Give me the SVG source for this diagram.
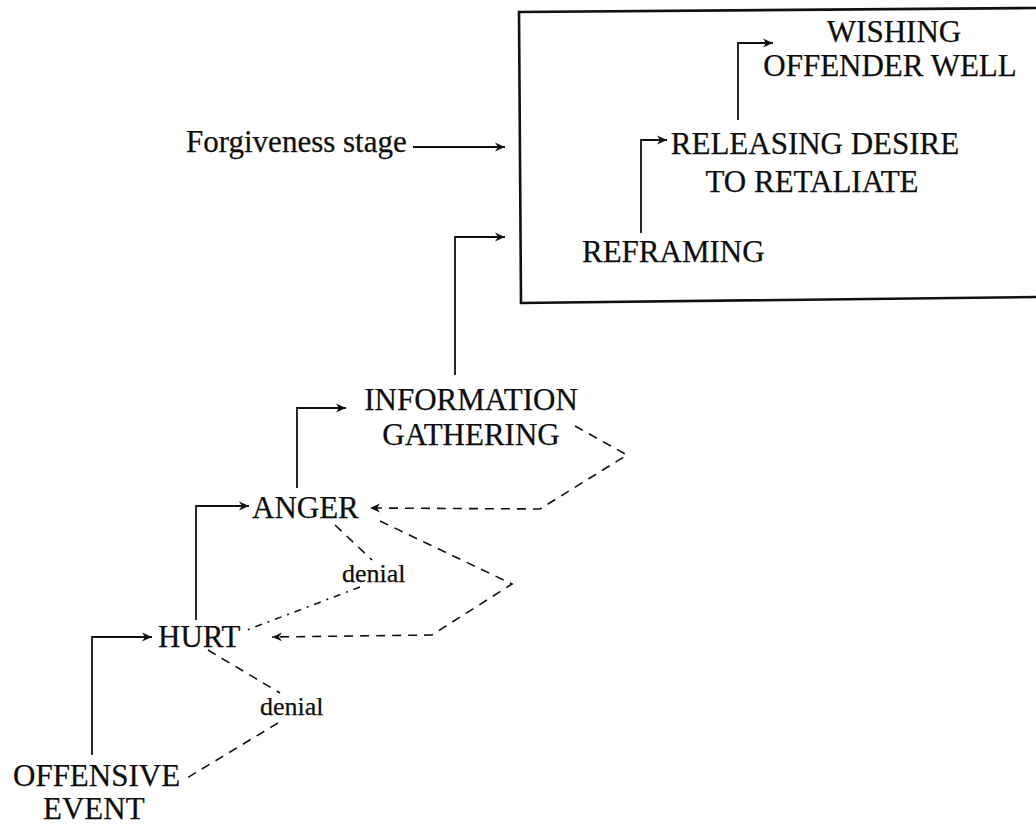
<svg xmlns="http://www.w3.org/2000/svg" width="1036" height="827" viewBox="0 0 1036 827">
<style>
  text { font-family: "Liberation Serif", "Times New Roman", serif; fill: #0d0d0d; stroke: #0d0d0d; stroke-width: 0.25; }
  .lbl { font-size: 31px; }
  .small { font-size: 26px; }
  .solid { fill: none; stroke: #111; stroke-width: 1.8; }
  .dash { fill: none; stroke: #111; stroke-width: 1.6; stroke-dasharray: 9 7; }
  .dashdot { fill: none; stroke: #111; stroke-width: 1.6; stroke-dasharray: 7 6 2 6; }
  .box { fill: none; stroke: #111; stroke-width: 2.6; }
</style>
<defs>
  <marker id="arr" markerUnits="userSpaceOnUse" markerWidth="12" markerHeight="10" refX="10" refY="5" orient="auto">
    <path d="M0,0.5 L10,5 L0,9.5 L3,5 z" fill="#111"/>
  </marker>
</defs>
<rect width="1036" height="827" fill="#fff"/>

<g id="stage-box">
  <path class="box" d="M1036,8 L519,12 L521,303 L1036,297"/>
</g>

<g id="connectors">
  <path class="solid" d="M92,755 V637 H152" marker-end="url(#arr)"/>
  <path class="solid" d="M196,620 V506 H249" marker-end="url(#arr)"/>
  <path class="solid" d="M297,488 V408 H346" marker-end="url(#arr)"/>
  <path class="solid" d="M455,375 V237 H505" marker-end="url(#arr)"/>
  <path class="solid" d="M413,147 H505" marker-end="url(#arr)"/>
  <path class="solid" d="M641,233 V140 H667" marker-end="url(#arr)"/>
  <path class="solid" d="M738,120 V43 H773" marker-end="url(#arr)"/>
  <path class="dash" d="M575,426 L627,455 L540,509 L370,508" marker-end="url(#arr)"/>
  <path class="dash" d="M380,521 L512,584 L432,635 L272,637" marker-end="url(#arr)"/>
  <path class="dash" d="M335,525 L372,560"/>
  <path class="dashdot" d="M360,587 L247,630"/>
  <path class="dash" d="M208,650 L280,693"/>
  <path class="dash" d="M278,723 L187,778"/>
</g>

<g id="forgiveness-stage-label"><text class="lbl" x="186" y="152">Forgiveness stage</text></g>
<g id="wishing"><text class="lbl" text-anchor="middle" x="894" y="42">WISHING</text><text class="lbl" text-anchor="middle" x="890" y="76">OFFENDER WELL</text></g>
<g id="releasing"><text class="lbl" text-anchor="middle" x="815" y="154">RELEASING DESIRE</text><text class="lbl" text-anchor="middle" x="812" y="192">TO RETALIATE</text></g>
<g id="reframing"><text class="lbl" x="582" y="262">REFRAMING</text></g>
<g id="information"><text class="lbl" text-anchor="middle" x="471" y="410">INFORMATION</text><text class="lbl" text-anchor="middle" x="471" y="445">GATHERING</text></g>
<g id="anger"><text class="lbl" x="252" y="518">ANGER</text></g>
<g id="hurt"><text class="lbl" x="158" y="647">HURT</text></g>
<g id="offensive-event"><text class="lbl" x="13" y="786">OFFENSIVE</text><text class="lbl" x="43" y="819">EVENT</text></g>
<g id="denial-1"><text class="small" x="342" y="582">denial</text></g>
<g id="denial-2"><text class="small" x="260" y="715">denial</text></g>
</svg>
